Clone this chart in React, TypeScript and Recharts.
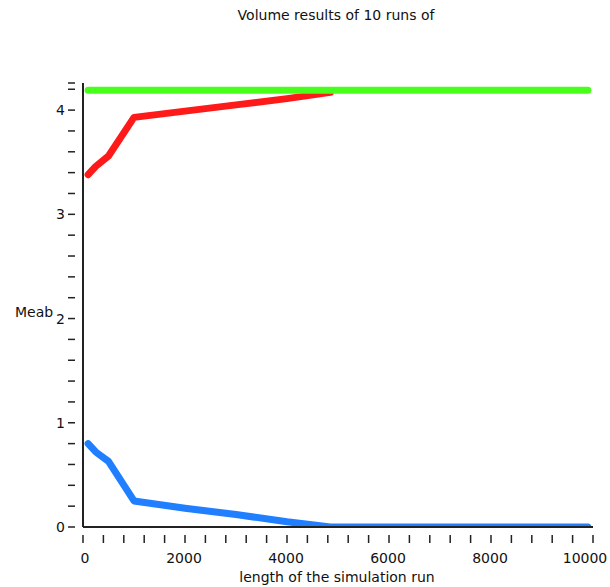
import React from "react";
import { LineChart, Line, XAxis, YAxis, Label } from "recharts";

const runLengths = [100, 250, 500, 1000, 2000, 3000, 4000, 4850, 9900];
const redSeries = [3.38, 3.46, 3.56, 3.93, 3.99, 4.05, 4.11, 4.17, null];
const blueSeries = [0.8, 0.72, 0.63, 0.25, 0.18, 0.12, 0.05, 0.0, 0.0];
const greenSeries = [4.19, 4.19, 4.19, 4.19, 4.19, 4.19, 4.19, 4.19, 4.19];

const xTicks = Array.from({ length: 26 }, (_, i) => i * 400);
const xLabelTicks = [0, 2000, 4000, 6000, 8000, 10000];
const yTicks = [...Array.from({ length: 22 }, (_, i) => Math.round(i * 2) / 10), 4.26];
const yLabelTicks = [0, 1, 2, 3, 4];

const title = "Volume results of 10 runs of";
const xTitle = "length of the simulation run";
const yTitle = "Meab";

const data = runLengths.map((x, i) => ({
  x,
  red: redSeries[i],
  blue: blueSeries[i],
  green: greenSeries[i],
}));

const FONT = "'DejaVu Sans', sans-serif";
const AXIS = "#222";

const XTick = (props: any) => {
  const { x, y, payload } = props;
  const v = payload.value;
  const show = xLabelTicks.includes(v);
  const shift = v === 0 ? 2 : v === 10000 ? -8 : -1;
  return (
    <g>
      <line x1={x} x2={x} y1={y} y2={y + 8} stroke={AXIS} strokeWidth={1.5} />
      {show && (
        <text x={x + shift} y={y + 28} textAnchor="middle" fontFamily={FONT} fontSize={14} fill="#111">
          {v}
        </text>
      )}
    </g>
  );
};

const YTick = (props: any) => {
  const { x, y, payload } = props;
  const v = payload.value;
  const show = yLabelTicks.includes(v);
  return (
    <g>
      <line x1={x - 7} x2={x} y1={y} y2={y} stroke={AXIS} strokeWidth={1.5} />
      {show && (
        <text x={x - 10} y={y + 5} textAnchor="end" fontFamily={FONT} fontSize={14} fill="#111">
          {v}
        </text>
      )}
    </g>
  );
};

export default function App() {
  return (
    <div style={{ position: "absolute", left: 0, top: 0, width: 610, height: 587, background: "#fff" }}>
      <div
        style={{
          position: "absolute",
          left: 0,
          top: 7,
          width: 672,
          textAlign: "center",
          fontFamily: FONT,
          fontSize: 14,
          color: "#111",
        }}
      >
        {title}
      </div>
      <LineChart
        width={610}
        height={587}
        data={data}
        margin={{ top: 83, right: 17, bottom: 0, left: 0 }}
      >
        <XAxis
          dataKey="x"
          type="number"
          domain={[0, 10000]}
          ticks={xTicks}
          interval={0}
          tick={<XTick />}
          tickLine={false}
          axisLine={{ stroke: AXIS, strokeWidth: 2 }}
          height={60}
        >
          <Label
            content={() => (
              <text x={337} y={582} textAnchor="middle" fontFamily={FONT} fontSize={14} fill="#111">
                {xTitle}
              </text>
            )}
          />
        </XAxis>
        <YAxis
          type="number"
          domain={[0, 4.26]}
          ticks={yTicks}
          interval={0}
          tick={<YTick />}
          tickLine={false}
          axisLine={{ stroke: AXIS, strokeWidth: 2 }}
          width={83}
          allowDataOverflow
        >
          <Label
            content={() => (
              <text x={15} y={317} fontFamily={FONT} fontSize={14} fill="#111">
                {yTitle}
              </text>
            )}
          />
        </YAxis>
        <Line
          dataKey="red"
          stroke="#ff1a1a"
          strokeWidth={7}
          strokeLinecap="round"
          strokeLinejoin="round"
          dot={false}
          isAnimationActive={false}
        />
        <Line
          dataKey="blue"
          stroke="#1f7fff"
          strokeWidth={7}
          strokeLinecap="round"
          strokeLinejoin="round"
          dot={false}
          isAnimationActive={false}
        />
        <Line
          dataKey="green"
          stroke="#48ff1c"
          strokeWidth={7}
          strokeLinecap="round"
          strokeLinejoin="round"
          dot={false}
          isAnimationActive={false}
        />
      </LineChart>
    </div>
  );
}
